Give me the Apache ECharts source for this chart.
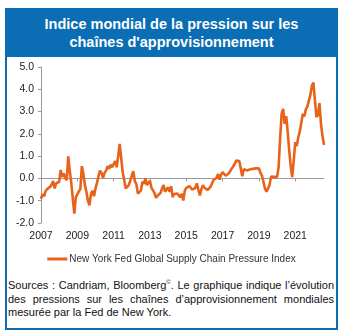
<!DOCTYPE html>
<html>
<head>
<meta charset="utf-8">
<script src="https://cdn.jsdelivr.net/npm/echarts@6/dist/echarts.min.js"></script>
<style>
  html, body { margin: 0; padding: 0; background: #fff; }
  body { width: 343px; height: 333px; position: relative; overflow: hidden;
         font-family: "Liberation Sans", Arial, sans-serif; }
  #frame { position: absolute; left: 5px; top: 8px; width: 329px; height: 320px;
           border: 2px solid #0b6db3; border-top: none; }
  #header { position: absolute; left: 5px; top: 8px; width: 333px; height: 49px;
            background: #0b6db3; color: #fff; font-weight: bold; font-size: 14.5px;
            line-height: 18px; text-align: center; padding-top: 7px; box-sizing: border-box; }
  #chart { position: absolute; left: 0; top: 0; width: 343px; height: 270px; }
  #note { position: absolute; left: 8px; top: 279px; width: 326px; font-size: 11px;
          line-height: 13.6px; color: #111; text-align: justify; text-align-last: left; }
  #note sup { font-size: 6px; vertical-align: 5px; line-height: 0; }
</style>
</head>
<body>
<div id="frame"></div>
<div id="header">Indice mondial de la pression sur les<br>chaînes d'approvisionnement</div>
<div id="chart"></div>
<div id="note">Sources : Candriam, Bloomberg<sup>©</sup>. Le graphique indique l’évolution des pressions sur les chaînes d’approvisionnement mondiales mesurée par la Fed de New York.</div>
<script>
// Monthly index values, January 2007 to August 2022
const v2007 = [-0.92, -0.70, -0.80, -0.58, -0.48, -0.55, -0.38, -0.28, -0.12, -0.45, -0.22, -0.28];
const v2008 = [-0.15, 0.38, 0.08, 0.22, 0.02, -0.08, 0.99, 0.35, -0.20, -0.90, -1.58, -0.85];
const v2009 = [-0.72, -0.58, -0.48, 0.55, 0.20, -0.30, -0.60, -1.00, -1.21, -0.70, -0.55, -0.80];
const v2010 = [-0.45, -0.20, 0.10, 0.35, 0.25, 0.02, 0.25, 0.35, 0.55, 0.43, 0.62, 0.50];
const v2011 = [0.55, 0.78, 0.50, 1.00, 1.55, 0.90, 0.28, 0.25, -0.45, -0.50, -0.30, -0.10];
const v2012 = [0.13, 0.33, -0.12, -0.25, -0.68, -0.68, -0.55, -0.15, -0.24, 0.00, -0.30, -0.28];
const v2013 = [-0.10, -0.42, -0.54, -0.66, -0.87, -0.78, -0.70, -0.65, -0.45, -0.30, -0.60, -0.54];
const v2014 = [-0.40, -0.60, -0.35, -0.84, -0.70, -0.76, -0.68, -0.72, -0.84, -0.69, -0.99, -0.55];
const v2015 = [-0.42, -0.45, -0.35, -0.33, -0.50, -0.50, -0.42, -0.22, -0.52, -0.76, -0.48, -0.30];
const v2016 = [-0.42, -0.50, -0.52, -0.50, -0.38, -0.42, -0.07, 0.00, 0.02, 0.20, -0.05, 0.18];
const v2017 = [0.28, 0.25, 0.12, 0.08, 0.22, 0.30, 0.44, 0.52, 0.65, 0.80, 0.88, 0.78];
const v2018 = [0.70, 0.10, 0.42, 0.45, 0.36, 0.42, 0.40, 0.48, 0.43, 0.50, 0.45, 0.45];
const v2019 = [0.45, 0.25, 0.13, 0.10, -0.45, -0.60, -0.45, -0.30, 0.08, 0.13, 0.07, 0.10];
const v2020 = [0.07, 0.50, 1.80, 2.90, 3.12, 2.45, 2.80, 2.10, 1.26, 0.55, 0.06, 0.80];
const v2021 = [1.63, 1.45, 1.85, 2.10, 2.50, 2.90, 2.78, 3.10, 3.22, 3.30, 3.75, 4.17];
const v2022 = [4.30, 3.50, 2.75, 2.85, 3.38, 2.45, 1.90, 1.50];

const seriesName = 'New York Fed Global Supply Chain Pressure Index';
const startYear = 2007;
const yearTicks = ['2007', '2009', '2011', '2013', '2015', '2017', '2019', '2021'];

const values = [].concat(v2007, v2008, v2009, v2010, v2011, v2012, v2013, v2014,
                         v2015, v2016, v2017, v2018, v2019, v2020, v2021, v2022);
const months = values.map((_, i) => {
  const y = startYear + Math.floor(i / 12);
  const m = (i % 12) + 1;
  return y + '-' + (m < 10 ? '0' + m : m);
});
const isYearTick = (i) => {
  const lab = months[i];
  return lab.endsWith('-01') && yearTicks.includes(lab.slice(0, 4));
};

const orange = '#e8621a';
const axisGrey = '#9a9a9a';
const textColor = '#222';
const font = '"Liberation Sans", Arial, sans-serif';

const chart = echarts.init(document.getElementById('chart'), null, { renderer: 'canvas' });
chart.setOption({
  animation: false,
  grid: { left: 41, top: 67, width: 283, height: 156, containLabel: false },
  legend: {
    data: [seriesName],
    top: 249,
    left: 'center',
    icon: 'rect',
    itemWidth: 20,
    itemHeight: 3,
    itemGap: 10,
    textStyle: { fontSize: 10, color: '#333', fontFamily: font, padding: [0, 0, 0, -3] }
  },
  xAxis: [
    {
      type: 'category',
      data: months,
      boundaryGap: false,
      axisLine: { onZero: true, lineStyle: { color: axisGrey, width: 1 } },
      axisTick: { show: true, length: 3, interval: (i) => isYearTick(i) && i > 0,
                  lineStyle: { color: axisGrey } },
      axisLabel: { show: false },
      splitLine: { show: false }
    },
    {
      type: 'category',
      data: months,
      boundaryGap: false,
      position: 'bottom',
      axisLine: { show: false, onZero: false },
      axisTick: { show: false },
      axisLabel: {
        show: true,
        interval: (i) => isYearTick(i),
        formatter: (v) => v.slice(0, 4),
        margin: 8,
        fontSize: 10.5,
        color: textColor,
        fontFamily: font
      },
      splitLine: { show: false }
    }
  ],
  yAxis: {
    type: 'value',
    min: -2,
    max: 5,
    interval: 1,
    axisLine: { show: true, lineStyle: { color: axisGrey, width: 1 } },
    axisTick: { show: true, length: 3, lineStyle: { color: axisGrey } },
    axisLabel: { formatter: (v) => v.toFixed(1), fontSize: 10.5, color: textColor,
                 fontFamily: font, margin: 7 },
    splitLine: { show: false }
  },
  series: [{
    name: seriesName,
    type: 'line',
    xAxisIndex: 0,
    data: values,
    showSymbol: false,
    symbol: 'none',
    lineStyle: { color: orange, width: 2.6 },
    itemStyle: { color: orange }
  }]
});
</script>
</body>
</html>
